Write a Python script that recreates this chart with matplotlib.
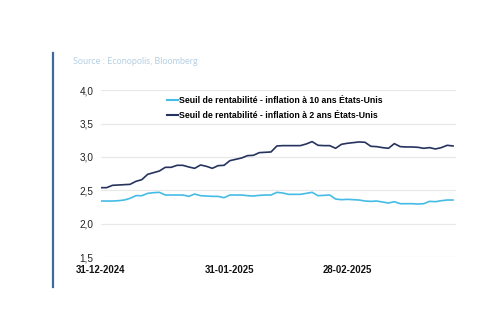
import matplotlib
matplotlib.use("Agg")
import matplotlib.pyplot as plt
from matplotlib.lines import Line2D

# business-day series, 31-12-2024 .. late March 2025
be_10y = [2.34, 2.34, 2.34, 2.345, 2.355, 2.38, 2.42, 2.42, 2.455, 2.465,
          2.47, 2.43, 2.43, 2.43, 2.43, 2.41, 2.445, 2.42, 2.415, 2.41,
          2.41, 2.39, 2.43, 2.43, 2.43, 2.42, 2.415, 2.425, 2.43, 2.43,
          2.47, 2.46, 2.44, 2.44, 2.44, 2.455, 2.47, 2.42, 2.425, 2.43,
          2.37, 2.36, 2.365, 2.36, 2.355, 2.34, 2.335, 2.34, 2.325, 2.31,
          2.33, 2.30, 2.30, 2.30, 2.295, 2.30, 2.335, 2.33, 2.345, 2.355,
          2.355]
be_2y = [2.54, 2.54, 2.575, 2.58, 2.585, 2.59, 2.635, 2.66, 2.74, 2.765,
         2.79, 2.845, 2.845, 2.875, 2.875, 2.85, 2.83, 2.88, 2.86, 2.83,
         2.87, 2.875, 2.945, 2.965, 2.985, 3.02, 3.025, 3.065, 3.07, 3.075,
         3.165, 3.17, 3.17, 3.17, 3.17, 3.195, 3.23, 3.175, 3.17, 3.17,
         3.13, 3.19, 3.205, 3.215, 3.225, 3.22, 3.16, 3.155, 3.14, 3.13,
         3.2, 3.155, 3.15, 3.15, 3.145, 3.13, 3.14, 3.12, 3.14, 3.175,
         3.165]
tick_pos = [0, 22, 42]
tick_labels = ["31-12-2024", "31-01-2025", "28-02-2025"]
y_ticks = [1.5, 2.0, 2.5, 3.0, 3.5, 4.0]

label_10y = "Seuil de rentabilité - inflation à 10 ans États-Unis"
label_2y = "Seuil de rentabilité - inflation à 2 ans États-Unis"

light = "#45bce6"
dark = "#26335e"

plt.rcParams['font.family'] = ['Liberation Sans Narrow', 'Liberation Sans', 'DejaVu Sans']

fig = plt.figure(figsize=(5, 3.33), dpi=100)
ax = fig.add_axes([0.2014, 0.228, 0.71, 0.501])

x = list(range(len(be_10y)))
ax.plot(x, be_10y, color=light, lw=1.2)
ax.plot(x, be_2y, color=dark, lw=1.2)

ax.set_xlim(0, 60.45)
ax.set_ylim(1.5, 4.0)
ax.set_yticks(y_ticks)
ax.set_yticklabels([f"{v:.1f}".replace(".", ",") for v in y_ticks], fontsize=7.2,
                   color="#222222", family=['Liberation Sans', 'DejaVu Sans'])
ax.set_xticks(tick_pos)
ax.set_xticklabels(tick_labels, fontsize=6.9, fontweight="bold", color="#111111",
                   family=['Liberation Sans', 'DejaVu Sans'])
ax.tick_params(axis="x", length=0, pad=6)
ax.tick_params(axis="y", length=0, pad=5)
ax.grid(axis="y", color="#e8e8e8", lw=0.9)
ax.set_axisbelow(True)
for s in ax.spines.values():
    s.set_visible(False)

handles = [Line2D([], [], color=light, lw=1.5), Line2D([], [], color=dark, lw=1.5)]
ax.legend(handles, [label_10y, label_2y], loc="upper center", bbox_to_anchor=(0.49, 1.015),
          frameon=False, handlelength=1.3, handletextpad=0.05, labelspacing=0.75,
          prop={'size': 6.3, 'weight': 'bold'})

fig.text(73 / 500, 1 - 61 / 333, "Source : Econopolis, Bloomberg", fontsize=6.5,
         color="#b6d0e4", va="center", family=['Lato', 'DejaVu Sans'])
fig.add_artist(Line2D([53 / 500, 53 / 500], [1 - 53 / 333, 1 - 287 / 333],
                      color="#3f6b9c", lw=1.6))

fig.savefig("out.png", dpi=100)
